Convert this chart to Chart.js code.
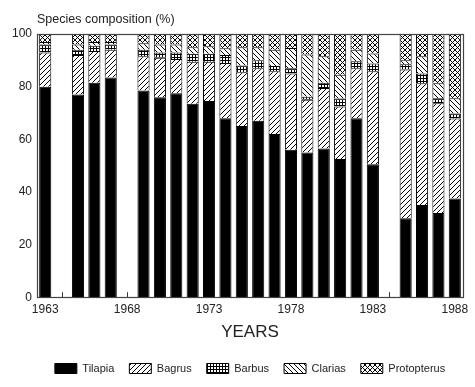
<!DOCTYPE html>
<html>
<head>
<meta charset="utf-8">
<script src="https://cdn.jsdelivr.net/npm/chart.js@4.4.1/dist/chart.umd.min.js"></script>
<style>
  html, body { margin: 0; padding: 0; background: #fff; }
  #wrap { width: 475px; height: 387px; position: relative; }
</style>
</head>
<body>
<div id="wrap"><canvas id="c"></canvas></div>
<script>
const years = ['1963','1964','1965','1966','1967','1968','1969','1970','1971','1972','1973','1974','1975','1976','1977','1978','1979','1980','1981','1982','1983','1984','1985','1986','1987','1988'];
const tickYears = ['1963','1968','1973','1978','1983','1988'];
const yTicks = [0, 20, 40, 60, 80, 100];
const tilapia     = [80, null, 77, 81.5, 83.5, null, 78.5, 76, 77.5, 73.5, 74.5, 68, 65, 67, 62, 56, 55, 56.5, 52.5, 68, 50.5, null, 30, 35, 32, 37.5];
const bagrus      = [13, null, 15, 12, 10.5, null, 13, 15, 13, 16, 15, 21, 20.5, 20, 23.8, 29, 20, 23, 20, 19, 35.3, null, 56.5, 46.3, 41.7, 30.4];
const barbus      = [3, null, 2, 2, 2, null, 2.5, 2, 2.5, 3, 3, 3, 2.5, 3, 2, 2, 1.2, 2, 3, 2.6, 3, null, 2, 3.7, 1.9, 1.9];
const clarias     = [1, null, 2, 1.5, 1, null, 2.5, 3, 3, 2.5, 2.8, 2.6, 7, 5, 6.2, 7.7, 16, 10, 9, 4.4, 3.8, null, 1.5, 6.5, 5.7, 5.8];
const protopterus = [3, null, 4, 3, 3, null, 3.5, 4, 4, 5, 4.7, 5.4, 5, 5, 6, 5.3, 7.8, 8.5, 15.5, 6, 7.4, null, 10, 8.5, 18.7, 24.4];

function makePattern(kind) {
  const s = 5;
  const cv = document.createElement('canvas');
  cv.width = s; cv.height = s;
  const g = cv.getContext('2d');
  g.fillStyle = '#fff';
  g.fillRect(0, 0, s, s);
  g.strokeStyle = '#000';
  g.lineWidth = 1;
  g.beginPath();
  if (kind === 'fwd' || kind === 'cross') {
    g.moveTo(-1, s + 1); g.lineTo(s + 1, -1);
    g.moveTo(-1, 1); g.lineTo(1, -1);
    g.moveTo(s - 1, s + 1); g.lineTo(s + 1, s - 1);
  }
  if (kind === 'back' || kind === 'cross') {
    g.moveTo(-1, -1); g.lineTo(s + 1, s + 1);
    g.moveTo(s - 1, -1); g.lineTo(s + 1, 1);
    g.moveTo(-1, s - 1); g.lineTo(1, s + 1);
  }
  g.stroke();
  if (kind === 'grid') {
    const cv2 = document.createElement('canvas');
    cv2.width = 3; cv2.height = 3;
    const h = cv2.getContext('2d');
    h.fillStyle = '#fff'; h.fillRect(0, 0, 3, 3);
    h.fillStyle = '#000';
    h.fillRect(0, 0, 3, 1);
    h.fillRect(0, 0, 1, 3);
    return g.createPattern(cv2, 'repeat');
  }
  return g.createPattern(cv, 'repeat');
}

const frame = {
  id: 'frame',
  beforeDatasetsDraw(chart) {
    const { ctx, chartArea: a, scales } = chart;
    ctx.save();
    ctx.strokeStyle = '#333';
    ctx.lineWidth = 1;
    ctx.beginPath();
    for (let i = 0; i < years.length; i++) {
      const x = Math.round(scales.x.getPixelForValue(i)) + 0.5;
      ctx.moveTo(x, a.bottom); ctx.lineTo(x, a.bottom - 5);
    }
    ctx.stroke();
    ctx.restore();
  },
  afterDatasetsDraw(chart) {
    const { ctx, chartArea: a } = chart;
    ctx.save();
    ctx.strokeStyle = '#444';
    ctx.lineWidth = 1.2;
    ctx.strokeRect(Math.round(a.left) + 0.5, Math.round(a.top) + 0.5, Math.round(a.right - a.left), Math.round(a.bottom - a.top));
    ctx.restore();
  }
};

const font = "'Liberation Sans', Arial, sans-serif";
const ds = (label, data, bg) => ({ label, data, backgroundColor: bg, borderColor: '#000', borderWidth: 1, barPercentage: 0.74, categoryPercentage: 1 });

new Chart(document.getElementById('c'), {
  type: 'bar',
  data: {
    labels: years,
    datasets: [
      ds('Tilapia', tilapia, '#000'),
      ds('Bagrus', bagrus, makePattern('fwd')),
      ds('Barbus', barbus, makePattern('grid')),
      ds('Clarias', clarias, makePattern('back')),
      ds('Protopterus', protopterus, makePattern('cross'))
    ]
  },
  options: {
    responsive: true,
    maintainAspectRatio: false,
    animation: false,
    layout: { padding: { left: 7, right: 12, top: 12, bottom: 3 } },
    scales: {
      x: {
        stacked: true,
        offset: true,
        grid: { display: false, drawTicks: false },
        border: { display: false },
        ticks: {
          autoSkip: false, maxRotation: 0, padding: 5,
          color: '#222', font: { family: font, size: 12 },
          callback: function (v, i) { return tickYears.includes(years[i]) ? years[i] : ''; }
        },
        title: { display: true, text: 'YEARS', color: '#222', font: { family: font, size: 17 }, padding: { top: 1, bottom: 5 } }
      },
      y: {
        stacked: true,
        min: 0, max: 100,
        afterBuildTicks: (axis) => { axis.ticks = yTicks.map(v => ({ value: v })); },
        grid: { display: false, drawTicks: false },
        border: { display: false },
        ticks: { color: '#222', padding: 5, font: { family: font, size: 12 } }
      }
    },
    plugins: {
      title: {
        display: true, text: 'Species composition (%)', align: 'start', fullSize: false,
        color: '#222', font: { family: font, size: 12.5, weight: 'normal' }, padding: { top: 0, bottom: 7 }
      },
      legend: {
        position: 'bottom', fullSize: false,
        labels: { boxWidth: 22, boxHeight: 10, padding: 15, color: '#222', font: { family: font, size: 11 } }
      },
      tooltip: { enabled: false }
    }
  },
  plugins: [frame]
});
</script>
</body>
</html>
